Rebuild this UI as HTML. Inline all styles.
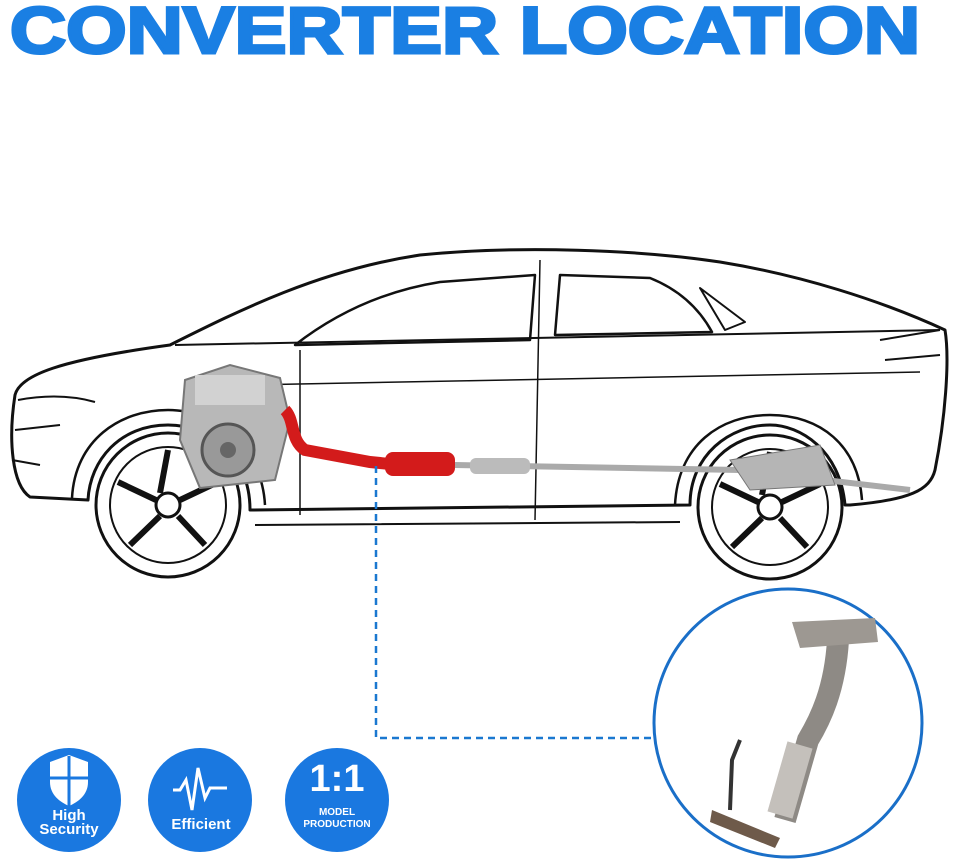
<!DOCTYPE html>
<html><head><style>body{margin:0;background:#fff}svg{display:block}</style></head><body>
<svg width="960" height="861" viewBox="0 0 960 861" xmlns="http://www.w3.org/2000/svg">
<text x="10" y="53" font-family="Liberation Sans, sans-serif" font-weight="bold" font-size="66" fill="#1a7fe3" stroke="#1a7fe3" stroke-width="3" textLength="910" lengthAdjust="spacingAndGlyphs">CONVERTER LOCATION</text>
<g fill="none" stroke="#111" stroke-width="3" stroke-linejoin="round">
<path d="M15,395 C20,375 60,360 170,345 C240,310 320,270 420,255 C520,245 640,250 720,262 C800,275 880,300 945,330 C950,360 945,420 935,470 C930,490 910,500 850,505 L845,505 C840,450 800,425 770,425 C730,425 690,455 690,505 L250,510 C250,455 210,425 168,425 C120,425 90,460 88,500 L30,497 C12,485 8,440 15,395 Z"/>
<path d="M72,498 C75,440 120,410 168,410 C220,410 262,450 265,505" stroke-width="2.5"/>
<path d="M675,505 C678,445 720,415 770,415 C820,415 858,445 862,500" stroke-width="2.5"/>
<path d="M295,345 C340,310 390,290 440,282 L535,275 L530,340 Z" stroke-width="2.5"/>
<path d="M560,275 L650,278 C680,290 700,310 712,332 L555,335 Z" stroke-width="2.5"/>
<path d="M700,288 L745,322 L725,330 Z" stroke-width="2"/>
<path d="M175,345 L940,330" stroke-width="2"/>
<path d="M248,385 L920,372" stroke-width="1.5"/>
<path d="M540,260 L535,520 M300,350 L300,515" stroke-width="1.5"/>
<path d="M250,510 L690,505 M255,525 L680,522" stroke-width="2"/>
<path d="M18,400 C45,395 70,395 95,402 M15,430 L60,425 M12,460 L40,465" stroke-width="2"/>
<path d="M880,340 L940,330 M885,360 L940,355" stroke-width="2"/>
</g>
<g fill="none" stroke="#111" stroke-width="3">
<circle cx="168" cy="505" r="72"/><circle cx="168" cy="505" r="58" stroke-width="2"/><circle cx="168" cy="505" r="12"/>
<circle cx="770" cy="507" r="72"/><circle cx="770" cy="507" r="58" stroke-width="2"/><circle cx="770" cy="507" r="12"/>
<path d="M168,450 L160,493 M118,482 L156,500 M130,545 L160,516 M205,545 L178,516 M218,482 L180,500" stroke-width="6"/>
<path d="M770,452 L762,495 M720,484 L758,502 M732,547 L762,518 M807,547 L780,518 M820,484 L782,502" stroke-width="6"/>
</g>
<g>
<path d="M185,380 L230,365 L280,378 L290,420 L275,480 L200,488 L180,440 Z" fill="#b8b8b8" stroke="#777" stroke-width="2"/>
<circle cx="228" cy="450" r="26" fill="#999" stroke="#555" stroke-width="3"/>
<circle cx="228" cy="450" r="8" fill="#666"/>
<rect x="195" y="375" width="70" height="30" fill="#d2d2d2"/>
</g>
<path d="M285,410 C295,420 290,440 305,450 L370,462 L400,465" stroke="#d31b1b" stroke-width="12" fill="none"/>
<rect x="385" y="452" width="70" height="24" rx="8" fill="#d31b1b"/>
<path d="M455,465 L740,470 L910,490" stroke="#aaa" stroke-width="6" fill="none"/>
<rect x="470" y="458" width="60" height="16" rx="6" fill="#bbb"/>
<path d="M730,460 L820,445 L835,485 L750,490 Z" fill="#b5b5b5" stroke="#777"/>
<path d="M376,466 L376,738 L655,738" stroke="#1a78d0" stroke-width="2.5" stroke-dasharray="7,5" fill="none"/>
<circle cx="788" cy="723" r="134" fill="#fff" stroke="#1a6fc8" stroke-width="3"/>
<path d="M838,640 C835,690 820,720 808,740 L785,820" stroke="#8e8a85" stroke-width="22" fill="none"/>
<path d="M800,745 L780,815" stroke="#c4c0bb" stroke-width="26" fill="none"/>
<path d="M792,622 L875,618 L878,642 L800,648 Z" fill="#9d9892"/>
<path d="M712,810 L780,838 L775,848 L710,822 Z" fill="#6e5a4a"/>
<path d="M740,740 L732,760 L730,810" stroke="#333" stroke-width="4" fill="none"/>
<g font-family="Liberation Sans, sans-serif" font-weight="bold" fill="#fff" text-anchor="middle">
<circle cx="69" cy="800" r="52" fill="#1a78e0"/>
<path d="M50,762 L69,755 L88,762 L88,782 C88,795 78,802 69,806 C60,802 50,795 50,782 Z" fill="#fff"/>
<path d="M69,756 L69,806 M50,778 L88,778" stroke="#1a78e0" stroke-width="3"/>
<text x="69" y="820" font-size="15">High</text><text x="69" y="834" font-size="15">Security</text>
<circle cx="200" cy="800" r="52" fill="#1a78e0"/>
<path d="M173,790 L180,790 L186,780 L192,810 L198,768 L205,798 L210,788 L227,788" stroke="#fff" stroke-width="3" fill="none"/>
<text x="201" y="829" font-size="15">Efficient</text>
<circle cx="337" cy="800" r="52" fill="#1a78e0"/>
<text x="337" y="791" font-size="38">1:1</text>
<text x="337" y="815" font-size="10">MODEL</text><text x="337" y="827" font-size="10">PRODUCTION</text>
</g>
</svg>
</body></html>
